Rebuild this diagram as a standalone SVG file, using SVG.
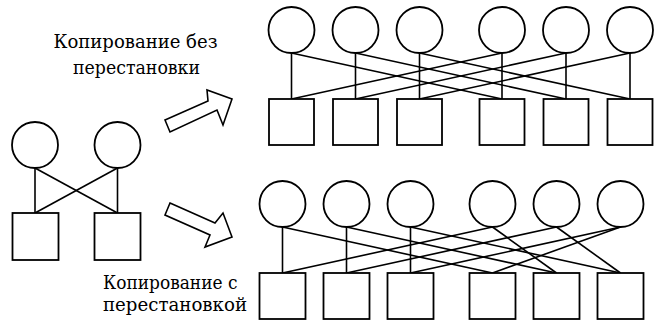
<svg xmlns="http://www.w3.org/2000/svg" width="662" height="325" viewBox="0 0 662 325">
<style>
.n{fill:#fff;stroke:#000;stroke-width:1.8}
.c line{stroke:#000;stroke-width:1.6}
.a{fill:#fff;stroke:#000;stroke-width:1.6;stroke-linejoin:miter}
.t{font-family:'DejaVu Serif Condensed','DejaVu Serif',serif;font-size:18px;fill:#000}
</style>
<rect width="662" height="325" fill="#fff"/>
<!-- connectors -->
<g id="connectors" class="c">
<!-- left -->
<line x1="35" y1="168" x2="35" y2="213"/>
<line x1="117.5" y1="168" x2="117.5" y2="213"/>
<line x1="35" y1="168" x2="117.5" y2="213"/>
<line x1="117.5" y1="168" x2="35" y2="213"/>
<!-- top -->
<line x1="291.5" y1="53" x2="291.5" y2="99"/>
<line x1="355.5" y1="53" x2="355.5" y2="99"/>
<line x1="419.5" y1="53" x2="419.5" y2="99"/>
<line x1="502" y1="53" x2="502" y2="99"/>
<line x1="566" y1="53" x2="566" y2="99"/>
<line x1="630" y1="53" x2="630" y2="99"/>
<line x1="291.5" y1="53" x2="502" y2="99"/>
<line x1="355.5" y1="53" x2="566" y2="99"/>
<line x1="419.5" y1="53" x2="630" y2="99"/>
<line x1="502" y1="53" x2="291.5" y2="99"/>
<line x1="566" y1="53" x2="355.5" y2="99"/>
<line x1="630" y1="53" x2="419.5" y2="99"/>
<!-- bottom -->
<line x1="282.5" y1="227" x2="282.5" y2="273"/>
<line x1="346.5" y1="227" x2="346.5" y2="273"/>
<line x1="410.5" y1="227" x2="410.5" y2="273"/>
<line x1="282.5" y1="227" x2="492.5" y2="273"/>
<line x1="346.5" y1="227" x2="556.5" y2="273"/>
<line x1="410.5" y1="227" x2="620.5" y2="273"/>
<line x1="492.5" y1="227" x2="282.5" y2="273"/>
<line x1="492.5" y1="227" x2="556.5" y2="273"/>
<line x1="556.5" y1="227" x2="346.5" y2="273"/>
<line x1="556.5" y1="227" x2="620.5" y2="273"/>
<line x1="620.5" y1="227" x2="410.5" y2="273"/>
<line x1="620.5" y1="227" x2="492.5" y2="273"/>
</g>
<!-- left nodes -->
<g id="L-c1"><circle class="n" cx="35" cy="145" r="23"/></g>
<g id="L-c2"><circle class="n" cx="117.5" cy="145" r="23"/></g>
<g id="L-s1"><rect class="n" x="12.5" y="213" width="46" height="47"/></g>
<g id="L-s2"><rect class="n" x="94.5" y="213" width="46" height="47"/></g>
<!-- top nodes -->
<g id="T-c1"><circle class="n" cx="291.5" cy="30" r="23"/></g>
<g id="T-c2"><circle class="n" cx="355.5" cy="30" r="23"/></g>
<g id="T-c3"><circle class="n" cx="419.5" cy="30" r="23"/></g>
<g id="T-c4"><circle class="n" cx="502" cy="30" r="23"/></g>
<g id="T-c5"><circle class="n" cx="566" cy="30" r="23"/></g>
<g id="T-c6"><circle class="n" cx="630" cy="30" r="23"/></g>
<g id="T-s1"><rect class="n" x="269" y="99" width="45" height="46"/></g>
<g id="T-s2"><rect class="n" x="333" y="99" width="45" height="46"/></g>
<g id="T-s3"><rect class="n" x="397" y="99" width="45" height="46"/></g>
<g id="T-s4"><rect class="n" x="479.5" y="99" width="45" height="46"/></g>
<g id="T-s5"><rect class="n" x="543.5" y="99" width="45" height="46"/></g>
<g id="T-s6"><rect class="n" x="607.5" y="99" width="45" height="46"/></g>
<!-- bottom nodes -->
<g id="B-c1"><circle class="n" cx="282.5" cy="204" r="23"/></g>
<g id="B-c2"><circle class="n" cx="346.5" cy="204" r="23"/></g>
<g id="B-c3"><circle class="n" cx="410.5" cy="204" r="23"/></g>
<g id="B-c4"><circle class="n" cx="492.5" cy="204" r="23"/></g>
<g id="B-c5"><circle class="n" cx="556.5" cy="204" r="23"/></g>
<g id="B-c6"><circle class="n" cx="620.5" cy="204" r="23"/></g>
<g id="B-s1"><rect class="n" x="259.5" y="273" width="46" height="46"/></g>
<g id="B-s2"><rect class="n" x="323.5" y="273" width="46" height="46"/></g>
<g id="B-s3"><rect class="n" x="387.5" y="273" width="46" height="46"/></g>
<g id="B-s4"><rect class="n" x="469.5" y="273" width="46" height="46"/></g>
<g id="B-s5"><rect class="n" x="533.5" y="273" width="46" height="46"/></g>
<g id="B-s6"><rect class="n" x="597.5" y="273" width="46" height="46"/></g>
<!-- arrows -->
<g id="arrow-up"><polygon class="a" points="165,120 208,101 207,90 232,99 223,125 217,110 170,132"/></g>
<g id="arrow-down"><polygon class="a" points="170,203 215,223 223,213 232,237 205,247 210,235 165,215"/></g>
<!-- labels -->
<g id="label-top">
<text class="t" x="53.5" y="48" textLength="164" lengthAdjust="spacingAndGlyphs">Копирование без</text>
<text class="t" x="73" y="74" textLength="127" lengthAdjust="spacingAndGlyphs">перестановки</text>
</g>
<g id="label-bottom">
<text class="t" x="103" y="289" textLength="134.5" lengthAdjust="spacingAndGlyphs">Копирование с</text>
<text class="t" x="103" y="311" textLength="144" lengthAdjust="spacingAndGlyphs">перестановкой</text>
</g>
</svg>
